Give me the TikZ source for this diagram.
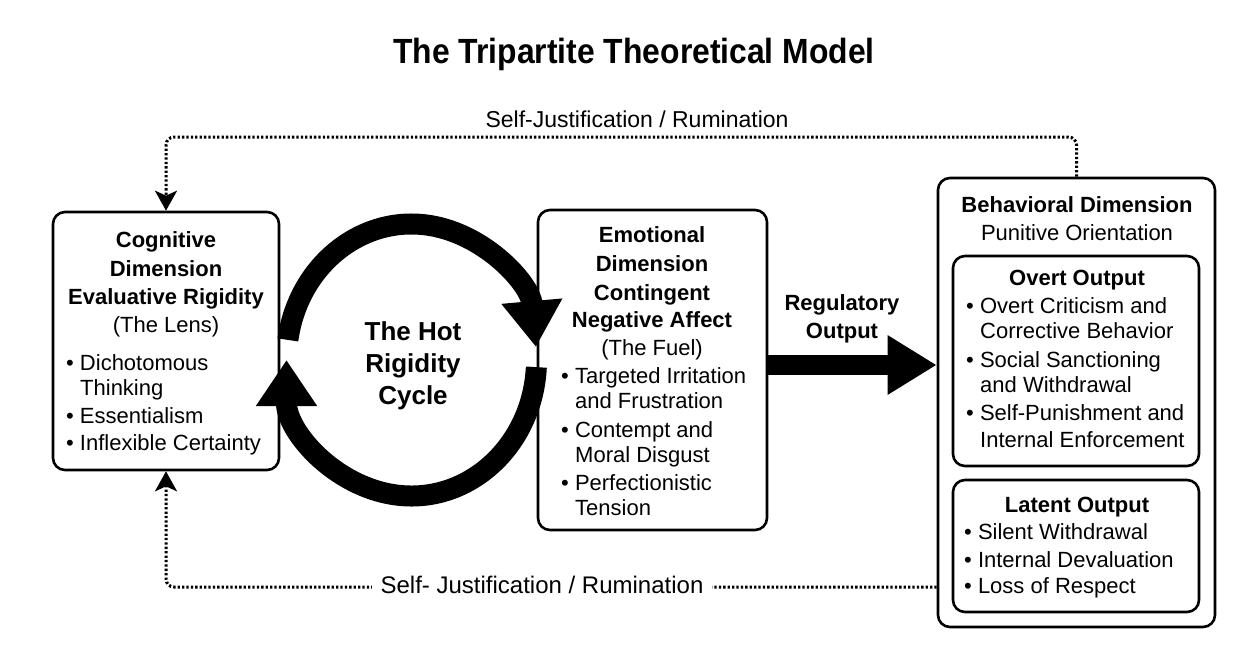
\documentclass[tikz,border=0pt]{standalone}
\usepackage{fontspec}
\setmainfont{Liberation Sans}
\newfontfamily\titlefont[FakeStretch=0.91]{Liberation Sans}
\usetikzlibrary{arrows.meta}
\begin{document}
\begin{tikzpicture}[x=1pt,y=-1pt,
  panel/.style={draw=black, line width=2.6pt, rounded corners=12pt, fill=white, inner sep=0pt},
  txt/.style={inner sep=0pt, font=\fontsize{22}{26}\selectfont},
  hd/.style={inner sep=0pt, anchor=base, font=\bfseries\fontsize{22}{26}\selectfont},
  sub/.style={txt, anchor=base},
  item/.style={txt, anchor=base west},
  dotline/.style={line width=3pt, dash pattern=on 2.3pt off 2.1pt, rounded corners=8pt},
  dottip/.style={-{Stealth[length=20pt,width=22pt,inset=5pt]}},
  ring/.style={line width=21pt, line cap=butt},
  ringtip/.style={-{Triangle[length=46pt,width=58pt]}},
]
% page
\fill[white] (0,0) rectangle (1252,665);
\useasboundingbox (0,0) rectangle (1252,665);

% title
\node[anchor=base, inner sep=0pt, font=\titlefont\bfseries\fontsize{35}{40}\selectfont] (title) at (634,63) {The Tripartite Theoretical Model};

% panels
\node[panel, minimum width=226pt, minimum height=258pt] (cog) at (166,341) {};
\node[panel, minimum width=229pt, minimum height=320pt] (emo) at (652.5,370) {};
\node[panel, minimum width=277pt, minimum height=449pt] (beh) at (1076.5,402.5) {};
\node[panel, minimum width=246pt, minimum height=210pt] (ovt) at (1076,361) {};
\node[panel, minimum width=246pt, minimum height=132pt] (lat) at (1076,546) {};

% cognitive dimension
\node[hd] (cog1) at (166,247) {Cognitive};
\node[hd] (cog2) at (166,276) {Dimension};
\node[hd] (cog3) at (166,304) {Evaluative Rigidity};
\node[sub] (cog4) at (166,332) {(The Lens)};
\node[item] (cogb1) at (66,370) {\textbullet\ Dichotomous};
\node[item] (cogb1b) at (80,395) {Thinking};
\node[item] (cogb2) at (66,423) {\textbullet\ Essentialism};
\node[item] (cogb3) at (66,450) {\textbullet\ Inflexible Certainty};

% emotional dimension
\node[hd] (emo1) at (652,242) {Emotional};
\node[hd] (emo2) at (652,271) {Dimension};
\node[hd] (emo3) at (652,300) {Contingent};
\node[hd] (emo4) at (652,327) {Negative Affect};
\node[sub] (emo5) at (652,355) {(The Fuel)};
\node[item] (emob1) at (561,383) {\textbullet\ Targeted Irritation};
\node[item] (emob1b) at (575,408) {and Frustration};
\node[item] (emob2) at (561,437) {\textbullet\ Contempt and};
\node[item] (emob2b) at (575,462) {Moral Disgust};
\node[item] (emob3) at (561,490) {\textbullet\ Perfectionistic};
\node[item] (emob3b) at (575,515) {Tension};

% behavioral dimension
\node[hd] (beh1) at (1077,212) {Behavioral Dimension};
\node[sub] (beh2) at (1077,240) {Punitive Orientation};
\node[hd] (ovt1) at (1077,285) {Overt Output};
\node[item] (ovtb1) at (966,313) {\textbullet\ Overt Criticism and};
\node[item] (ovtb1b) at (980,338) {Corrective Behavior};
\node[item] (ovtb2) at (966,367) {\textbullet\ Social Sanctioning};
\node[item] (ovtb2b) at (980,392) {and Withdrawal};
\node[item] (ovtb3) at (966,420) {\textbullet\ Self-Punishment and};
\node[item] (ovtb3b) at (980,447) {Internal Enforcement};
\node[hd] (lat1) at (1077,512) {Latent Output};
\node[item] (latb1) at (964,539) {\textbullet\ Silent Withdrawal};
\node[item] (latb2) at (964,567) {\textbullet\ Internal Devaluation};
\node[item] (latb3) at (964,593) {\textbullet\ Loss of Respect};

% the hot rigidity cycle
\coordinate (cyc) at (411.5,360);
\draw[ring, ringtip] ([shift={(188.5:125 and 136)}]cyc) arc[start angle=188.5, end angle=354.5, x radius=125, y radius=136];
\draw[ring, ringtip] ([shift={(3:125 and 136)}]cyc) arc[start angle=3, end angle=180, x radius=125, y radius=136];
\node[inner sep=0pt, anchor=base, font=\bfseries\fontsize{26}{32}\selectfont] (cycA) at (413,340) {The Hot};
\node[inner sep=0pt, anchor=base, font=\bfseries\fontsize{26}{32}\selectfont] (cycB) at (413,372) {Rigidity};
\node[inner sep=0pt, anchor=base, font=\bfseries\fontsize{26}{32}\selectfont] (cycC) at (413,404) {Cycle};

% regulatory output
\coordinate (ry) at (0,365);
\draw[line width=20pt, -{Triangle[length=49pt,width=56pt]}] (emo.east |- ry) -- (beh.west |- ry);
\node[hd] (reg1) at (842,310) {Regulatory};
\node[hd] (reg2) at (842,338) {Output};

% feedback loops
\coordinate (ty) at (0,137);
\coordinate (by) at (0,587);
\draw[dotline, dottip] (beh.north) -- (beh.north |- ty) -| (cog.north);
\node[anchor=base, inner sep=0pt, font=\fontsize{23}{28}\selectfont] (toplbl) at (637,127) {Self-Justification / Rumination};
\draw[dotline, dottip] (beh.west |- by) -| (cog.south);
\node[anchor=base, fill=white, inner xsep=9pt, inner ysep=3pt, font=\fontsize{24}{28}\selectfont] (botlbl) at (542,593) {Self- Justification / Rumination};
\end{tikzpicture}
\end{document}
